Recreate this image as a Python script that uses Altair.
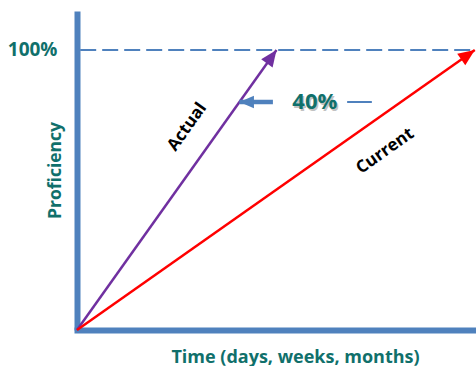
import math
import altair as alt
import pandas as pd

# ---- data ----
series = ["Actual", "Current"]
end_time = [50.0, 99.7]          # % of the time axis where each arrow reaches 100%
end_prof = [100.0, 100.0]        # proficiency reached (%)
series_colors = ["#7030A0", "#FF0000"]

target_level = 100.0             # dashed 100% line
gap_level = 81.4                 # height of the "40%" annotation
gap_tip = 40.7                   # where the blue arrow touches the Actual line
gap_tail = 49.1
gap_line = [67.7, 73.9]
gap_text = "40%"
gap_text_x = 59.6

label_x = [27.6, 77.2]
label_y = [72.5, 63.9]

X_MAX = 100.0
Y_MAX = 113.9
W, H = 399, 319

AXIS_BLUE = "#4F81BD"
TEAL = "#10706B"
FONT = "Open Sans"


def screen_angle(dx, dy):
    # clockwise angle (deg) from "down" of the tail direction, in pixel space
    px = dx / X_MAX * W
    py = dy / Y_MAX * H
    return math.degrees(math.atan2(px, py))


lines = pd.DataFrame({
    "series": series,
    "x0": [0.0, 0.0],
    "y0": [0.0, 0.0],
    "x1": end_time,
    "y1": end_prof,
})
lines["head_angle"] = [screen_angle(x, y) for x, y in zip(end_time, end_prof)]
lines["lx"] = label_x
lines["ly"] = label_y
lines["text_angle"] = [360 - math.degrees(math.atan2(y / Y_MAX * H, x / X_MAX * W))
                       for x, y in zip(end_time, end_prof)]

xs = alt.Scale(domain=[0, X_MAX], nice=False, zero=True)
ys = alt.Scale(domain=[0, Y_MAX], nice=False, zero=True)
col = alt.Color("series:N", scale=alt.Scale(domain=series, range=series_colors), legend=None)

ARROW = "M0,0L0.55,1.3L-0.55,1.3Z"

base_axes = alt.Chart(pd.DataFrame({"x": [0.0], "y": [target_level]})).mark_point(opacity=0).encode(
    x=alt.X("x:Q", scale=xs,
            axis=alt.Axis(title="Time (days, weeks, months)", labels=False, ticks=False, grid=False,
                          domainColor=AXIS_BLUE, domainWidth=6, domainCap="square",
                          titleColor=TEAL, titleFont=FONT, titleFontSize=18, titleFontWeight="bold",
                          titleX=218, titleY=27, titleAlign="center", titleBaseline="middle")),
    y=alt.Y("y:Q", scale=ys,
            axis=alt.Axis(title="Proficiency", values=[target_level], labelExpr="datum.value + '%'",
                          ticks=False, tickSize=0, grid=False, labelPadding=20,
                          labelColor=TEAL, labelFont=FONT, labelFontSize=19, labelFontWeight="bold",
                          domainColor=AXIS_BLUE, domainWidth=6,
                          titleColor=TEAL, titleFont=FONT, titleFontSize=17.5, titleFontWeight="bold",
                          titleAngle=270, titleX=-22, titleY=159, titleAlign="center",
                          titleBaseline="middle")),
)

dashed = alt.Chart(pd.DataFrame({"x": [0.8], "x2": [X_MAX], "y": [target_level]})).mark_rule(
    color=AXIS_BLUE, strokeWidth=2, strokeDash=[16, 6]
).encode(x=alt.X("x:Q", scale=xs), x2="x2:Q", y=alt.Y("y:Q", scale=ys))

arrow_lines = alt.Chart(lines).mark_rule(strokeWidth=2.5).encode(
    x=alt.X("x0:Q", scale=xs), x2="x1:Q", y=alt.Y("y0:Q", scale=ys), y2="y1:Q", color=col
)

heads = alt.Chart(lines).mark_point(shape=ARROW, filled=True, size=650, opacity=1).encode(
    x=alt.X("x1:Q", scale=xs), y=alt.Y("y1:Q", scale=ys), color=col,
    angle=alt.Angle("head_angle:Q", scale=None)
)

labels = alt.Chart(lines).mark_text(font=FONT, fontSize=17, fontWeight="bold", color="black").encode(
    x=alt.X("lx:Q", scale=xs), y=alt.Y("ly:Q", scale=ys), text="series:N",
    angle=alt.Angle("text_angle:Q", scale=None)
)

gap_df = pd.DataFrame({"tip": [gap_tip], "tail": [gap_tail], "y": [gap_level],
                       "l0": [gap_line[0]], "l1": [gap_line[1]], "tx": [gap_text_x], "t": [gap_text],
                       "ang": [270.0]})

gap_shaft = alt.Chart(gap_df).mark_rule(color=AXIS_BLUE, strokeWidth=4.5).encode(
    x=alt.X("tip:Q", scale=xs), x2="tail:Q", y=alt.Y("y:Q", scale=ys)
)
gap_head = alt.Chart(gap_df).mark_point(shape=ARROW, filled=True, size=500, opacity=1,
                                        color=AXIS_BLUE).encode(
    x=alt.X("tip:Q", scale=xs), y=alt.Y("y:Q", scale=ys), angle=alt.Angle("ang:Q", scale=None)
)
gap_rline = alt.Chart(gap_df).mark_rule(color=AXIS_BLUE, strokeWidth=2).encode(
    x=alt.X("l0:Q", scale=xs), x2="l1:Q", y=alt.Y("y:Q", scale=ys)
)
gap_shadow = alt.Chart(gap_df).mark_text(font=FONT, fontSize=22, fontWeight="bold", color="#9A9A9A",
                                         opacity=0.6, dx=1.5, dy=1.5).encode(
    x=alt.X("tx:Q", scale=xs), y=alt.Y("y:Q", scale=ys), text="t:N"
)
gap_label = alt.Chart(gap_df).mark_text(font=FONT, fontSize=22, fontWeight="bold", color=TEAL).encode(
    x=alt.X("tx:Q", scale=xs), y=alt.Y("y:Q", scale=ys), text="t:N"
)

chart = alt.layer(
    base_axes, dashed, arrow_lines, heads, labels,
    gap_shaft, gap_head, gap_rline, gap_shadow, gap_label
).properties(
    width=W, height=H,
    autosize=alt.AutoSizeParams(type="none"),
    padding={"left": 77, "top": 11, "right": 0, "bottom": 36},
    background="white",
).configure_view(stroke=None)

chart.save("out.html", embed_options={"renderer": "svg", "actions": False})
